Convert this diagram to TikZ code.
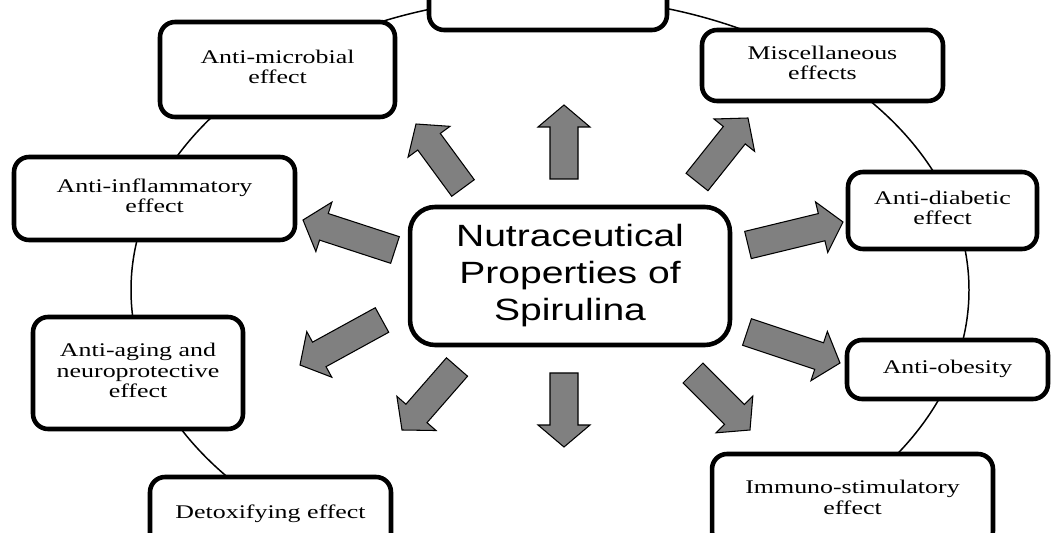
\documentclass[tikz,border=0pt]{standalone}
\usepackage{fontspec}
\setmainfont{Liberation Serif}
\newfontfamily\sansf{Liberation Sans}
\usepackage{graphicx}
\usetikzlibrary{calc}
\newcommand\stx[2]{\scalebox{#1}[1]{\begin{tabular}{@{}c@{}}#2\end{tabular}}}
\newcommand\barr[2]{%
  \coordinate (h) at ($(#2)!0.44cm!(#1)$);
  \draw[barrow] ($(#1)!0.28cm!90:(#2)$) -- ($(h)!0.28cm!-90:(#1)$) -- ($(h)!0.52cm!-90:(#1)$) -- (#2)
    -- ($(h)!0.52cm!90:(#1)$) -- ($(h)!0.28cm!90:(#1)$) -- ($(#1)!0.28cm!-90:(#2)$) -- cycle;}
\begin{document}
\begin{tikzpicture}[x=0.02cm,y=-0.02cm,
  box/.style={draw=black, line width=2.6pt, rounded corners=0.3cm, fill=white, inner sep=0pt,
    font=\fontsize{11}{11.6}\selectfont},
  ring/.style={draw=black, line width=0.85pt},
  barrow/.style={draw=black, line width=0.6pt, fill=black!50, line join=miter}]
\useasboundingbox (0,0) rectangle (1052,533);
\clip (0,0) rectangle (1052,533);
\fill[white] (0,0) rectangle (1052,533);
\draw[ring] (550,290) ellipse [x radius=419, y radius=293];
% boxes
\node[box, minimum width=4.76cm, minimum height=2.0cm] (top) at (548,-20) {};
\node[box, minimum width=4.7cm, minimum height=1.9cm] (amic) at (277.5,69.5) {\stx{1.34}{Anti-microbial\\effect}};
\node[box, minimum width=4.82cm, minimum height=1.42cm] (misc) at (822.5,65.5) {\stx{1.34}{Miscellaneous\\effects}};
\node[box, minimum width=5.62cm, minimum height=1.66cm] (ainf) at (154.5,198.5) {\stx{1.34}{Anti-inflammatory\\effect}};
\node[box, minimum width=3.78cm, minimum height=1.54cm] (adia) at (942.5,210.5) {\stx{1.34}{Anti-diabetic\\effect}};
\node[box, minimum width=4.2cm, minimum height=2.24cm] (aage) at (138,373) {\stx{1.34}{Anti-aging and\\neuroprotective\\effect}};
\node[box, minimum width=4.02cm, minimum height=1.18cm] (aob) at (947.5,369.5) {\stx{1.34}{Anti-obesity}};
\node[box, minimum width=4.82cm, minimum height=1.48cm] (detox) at (270.5,514) {\stx{1.34}{Detoxifying effect}};
\node[box, minimum width=5.62cm, minimum height=1.84cm] (immuno) at (852.5,500) {\stx{1.34}{Immuno-stimulatory\\effect}};
\node[box, rounded corners=0.5cm, minimum width=6.4cm, minimum height=2.76cm,
  font=\sansf\fontsize{17.5}{21.3}\selectfont] (center) at (570,276) {\stx{1.27}{Nutraceutical\\Properties of\\Spirulina}};
% block arrows
\coordinate (t1) at (564,179); \coordinate (p1) at (564,105);
\coordinate (t2) at (463,188); \coordinate (p2) at (416,124);
\coordinate (t3) at (697,182); \coordinate (p3) at (748,118);
\coordinate (t4) at (395,250); \coordinate (p4) at (303,220);
\coordinate (t5) at (748,245); \coordinate (p5) at (843,222);
\coordinate (t6) at (382,320); \coordinate (p6) at (300,365);
\coordinate (t7) at (747,332); \coordinate (p7) at (840,363);
\coordinate (t8) at (457,367); \coordinate (p8) at (402,430);
\coordinate (t9) at (564,373); \coordinate (p9) at (564,447);
\coordinate (t10) at (693,373); \coordinate (p10) at (750,430);
\barr{t1}{p1}\barr{t2}{p2}\barr{t3}{p3}\barr{t4}{p4}\barr{t5}{p5}
\barr{t6}{p6}\barr{t7}{p7}\barr{t8}{p8}\barr{t9}{p9}\barr{t10}{p10}
\end{tikzpicture}
\end{document}
